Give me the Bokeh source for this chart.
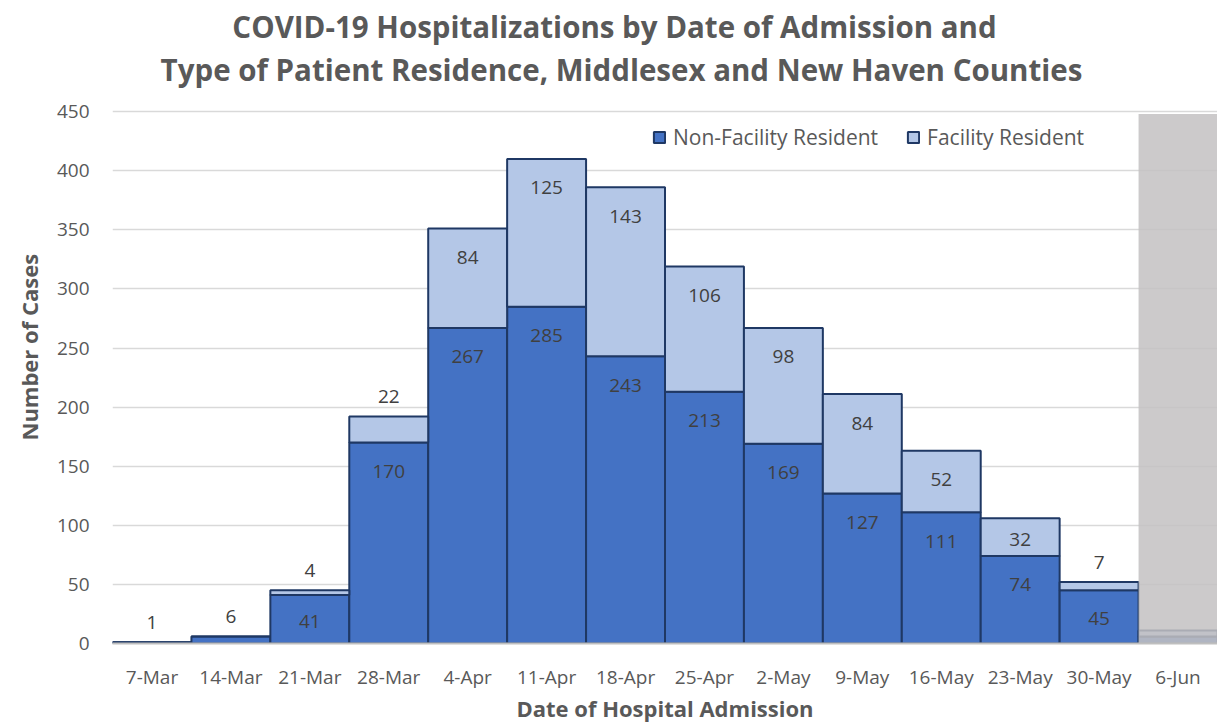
from bokeh.plotting import figure
from bokeh.models import (ColumnDataSource, FactorRange, Range1d, Legend, LegendItem,
                          Label, FixedTicker, Title)
from bokeh.core.properties import value
from bokeh.embed import file_html
from bokeh.resources import INLINE

dates = ["7-Mar", "14-Mar", "21-Mar", "28-Mar", "4-Apr", "11-Apr", "18-Apr",
         "25-Apr", "2-May", "9-May", "16-May", "23-May", "30-May", "6-Jun"]
non_facility = [1, 6, 41, 170, 267, 285, 243, 213, 169, 127, 111, 74, 45, 6]
facility = [0, 0, 4, 22, 84, 125, 143, 106, 98, 84, 52, 32, 7, 5]
incomplete_period = ["6-Jun"]
y_ticks = [0, 50, 100, 150, 200, 250, 300, 350, 400, 450]

title_1 = "COVID-19 Hospitalizations by Date of Admission and"
title_2 = "Type of Patient Residence, Middlesex and New Haven Counties"
x_title = "Date of Hospital Admission"
y_title = "Number of Cases"

FONT = "Open Sans"
GREY_TXT = "#595959"
LABEL_TXT = "#404040"
NAVY = "#1F3864"

# frame spans the full height so the two title lines can sit above the 450 gridline
p = figure(title=None, x_range=FactorRange(*dates, range_padding=0),
           y_range=Range1d(0, 544), width=1217, height=725,
           output_backend="svg", toolbar_location=None,
           min_border_left=112, min_border_right=0, min_border_bottom=82,
           min_border_top=0)
p.outline_line_color = None
p.background_fill_color = "white"

src = ColumnDataSource(dict(dates=dates, nonfac=non_facility, fac=facility))
rs = p.vbar_stack(["nonfac", "fac"], x="dates", width=1.0, source=src,
                  fill_color=["#4472C4", "#B4C7E7"], line_color=NAVY, line_width=2)

# grey shading on incomplete week
p.vbar(x=incomplete_period, bottom=0, top=448, width=1.0, fill_color="#C3C1C2",
       fill_alpha=0.85, line_color=None)

# data labels: inside the segment near its top, or above it when the segment is small
inside_x, inside_y, inside_t = [], [], []
above_x, above_y, above_t = [], [], []
for d, nf, f in zip(dates, non_facility, facility):
    if d in incomplete_period:
        continue
    for val, top in ((nf, nf), (f, nf + f)):
        if val <= 0:
            continue
        if val < 25:
            above_x.append(d); above_y.append(top); above_t.append(str(val))
        else:
            inside_x.append(d)
            inside_y.append(top - min(24.5, val / 2 + 1.7))
            inside_t.append(str(val))

p.text(x=inside_x, y=inside_y, text=inside_t, text_align="center",
       text_baseline="middle", text_font=value(FONT), text_font_size="19px",
       text_color=LABEL_TXT)
p.text(x=above_x, y=above_y, text=above_t, y_offset=-20, text_align="center",
       text_baseline="middle", text_font=value(FONT), text_font_size="19px",
       text_color=LABEL_TXT)

# axes
p.yaxis.ticker = FixedTicker(ticks=y_ticks)
p.yaxis.axis_line_color = None
p.yaxis.major_tick_line_color = None
p.yaxis.minor_tick_line_color = None
p.yaxis.major_tick_out = 0
p.yaxis.major_label_standoff = 23
for ax in (p.xaxis, p.yaxis):
    ax.major_label_text_font = FONT
    ax.major_label_text_font_size = "19px"
    ax.major_label_text_color = GREY_TXT
    ax.axis_label_text_font = FONT
    ax.axis_label_text_font_size = "22px"
    ax.axis_label_text_font_style = "bold"
    ax.axis_label_text_color = GREY_TXT

p.xaxis.axis_label = x_title
p.xaxis.axis_line_color = "#BFBFBF"
p.xaxis.axis_line_width = 2
p.xaxis.major_tick_line_color = None
p.xaxis.minor_tick_line_color = None
p.xaxis.major_tick_out = 0
p.xaxis.major_label_standoff = 20
p.xaxis.axis_label_standoff = 0

p.xgrid.grid_line_color = None
p.ygrid.grid_line_color = "#D9D9D9"
p.ygrid.grid_line_width = 1.5

# y-axis title, positioned along the left side
p.add_layout(Title(text=y_title, align="left", offset=203, text_font=FONT,
                   text_font_size="22px", text_font_style="bold",
                   text_color=GREY_TXT, standoff=20), "left")

# legend
legend = Legend(items=[LegendItem(label="Non-Facility Resident", renderers=[rs[0]]),
                       LegendItem(label="Facility Resident", renderers=[rs[1]])],
                orientation="horizontal", location=(540, 492),
                label_text_font=FONT, label_text_font_size="21px",
                label_text_color=GREY_TXT, glyph_width=14, glyph_height=14,
                spacing=28, label_standoff=7, background_fill_alpha=0,
                border_line_color=None, padding=4)
p.add_layout(legend)

# chart title, two centred lines (screen units relative to the plot frame)
common = dict(x_units="screen", y_units="screen", text_font=FONT,
              text_color=GREY_TXT, text_font_style="bold",
              text_align="center", text_baseline="middle",
              text_font_size="29.5px")
p.add_layout(Label(x=502, y=617, text=title_1, **common))
p.add_layout(Label(x=509, y=574, text=title_2, **common))

open("out.html", "w").write(file_html(p, INLINE))
